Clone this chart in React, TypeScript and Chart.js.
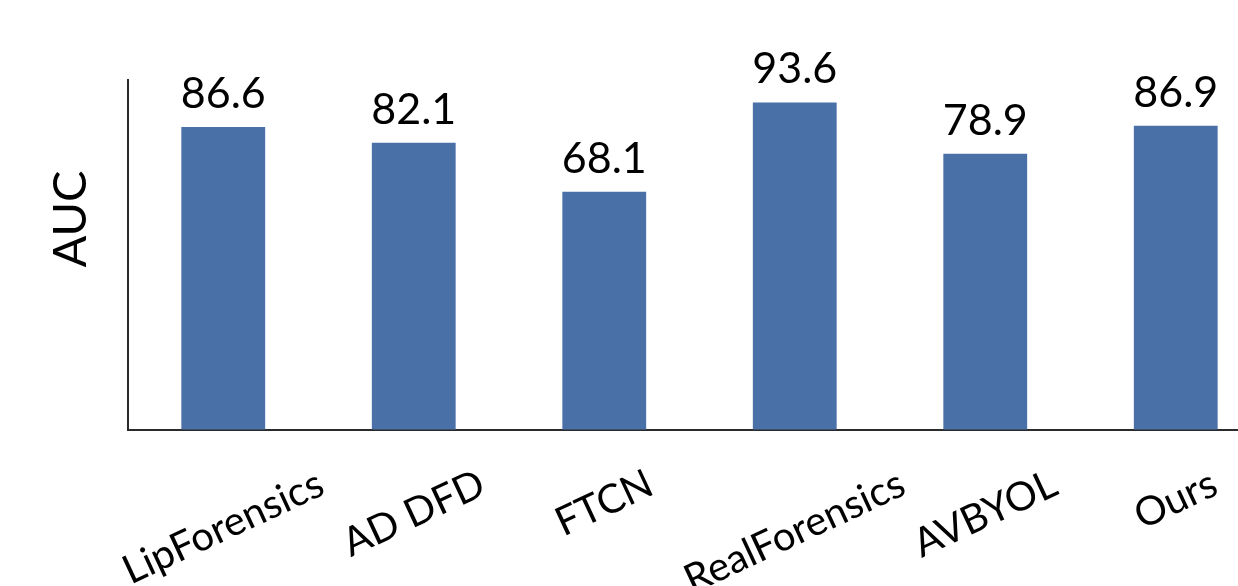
import React, { useEffect, useRef } from "react";
import { Chart, registerables } from "chart.js";

Chart.register(...registerables);

// Detection AUC per method
const methods: string[] = ["LipForensics", "AD DFD", "FTCN", "RealForensics", "AVBYOL", "Ours"];
const aucValues: number[] = [86.6, 82.1, 68.1, 93.6, 78.9, 86.9];
const yRange: number[] = [0, 100];
const yTitle = "AUC";

const FONT = "Lato, 'Noto Sans', 'DejaVu Sans', sans-serif";
const WEIGHT = 400;
const BAR_COLOR = "#4A70A8";
const AXIS_COLOR = "#2b2b2b";

// Draws value labels, rotated category labels and the y-axis title.
const annotations = {
  id: "annotations",
  afterDatasetsDraw(chart: any) {
    const ctx: CanvasRenderingContext2D = chart.ctx;
    const meta = chart.getDatasetMeta(0);
    const area = chart.chartArea;
    ctx.save();
    ctx.fillStyle = "#000";

    // values above the bars
    ctx.font = `${WEIGHT} 43px ${FONT}`;
    ctx.textAlign = "center";
    ctx.textBaseline = "alphabetic";
    meta.data.forEach((bar: any, i: number) => {
      ctx.fillText(aucValues[i].toFixed(1), bar.x, bar.y - 19);
    });

    // category labels, rotated about their centre
    const xs = chart.scales.x;
    const size = 40;
    ctx.font = `${WEIGHT} ${size}px ${FONT}`;
    const theta = (25 * Math.PI) / 180;
    methods.forEach((name, i) => {
      const cx = xs.getPixelForTick(i);
      const w = ctx.measureText(name).width;
      const boxH = w * Math.sin(theta) + size * 1.2 * Math.cos(theta);
      const cy = area.bottom + 30 + boxH / 2;
      ctx.save();
      ctx.translate(cx, cy);
      ctx.rotate(-theta);
      ctx.textAlign = "center";
      ctx.textBaseline = "middle";
      ctx.fillText(name, 0, 0);
      ctx.restore();
    });

    // y-axis title
    ctx.font = `${WEIGHT} 47px ${FONT}`;
    ctx.save();
    ctx.translate(86, 219);
    ctx.rotate(-Math.PI / 2);
    ctx.textAlign = "center";
    ctx.textBaseline = "alphabetic";
    ctx.fillText(yTitle, 0, 0);
    ctx.restore();

    ctx.restore();
  },
};

export default function App() {
  const canvasRef = useRef<HTMLCanvasElement | null>(null);

  useEffect(() => {
    if (!canvasRef.current) return;
    const chart = new Chart(canvasRef.current, {
      type: "bar",
      data: {
        labels: methods,
        datasets: [
          {
            label: yTitle,
            data: aucValues,
            backgroundColor: BAR_COLOR,
            borderWidth: 0,
            categoryPercentage: 1,
            barPercentage: 0.44,
          },
        ],
      },
      options: {
        responsive: false,
        animation: false,
        devicePixelRatio: 1,
        layout: { padding: { left: 128, right: 29, top: 80, bottom: 156 } },
        plugins: {
          legend: { display: false },
          tooltip: { enabled: false },
        },
        scales: {
          x: {
            ticks: { display: false },
            grid: { display: true, drawOnChartArea: false, drawTicks: false },
            border: { display: true, color: AXIS_COLOR, width: 2 },
          },
          y: {
            min: yRange[0],
            max: yRange[1],
            ticks: { display: false },
            grid: { display: true, drawOnChartArea: false, drawTicks: false },
            border: { display: true, color: AXIS_COLOR, width: 2 },
          },
        },
      },
      plugins: [annotations],
    });
    return () => chart.destroy();
  }, []);

  return (
    <div
      style={{
        position: "fixed",
        left: 0,
        top: 0,
        width: 1238,
        height: 586,
        overflow: "hidden",
        background: "#fff",
      }}
    >
      <canvas ref={canvasRef} width={1300} height={586} style={{ display: "block" }} />
    </div>
  );
}
